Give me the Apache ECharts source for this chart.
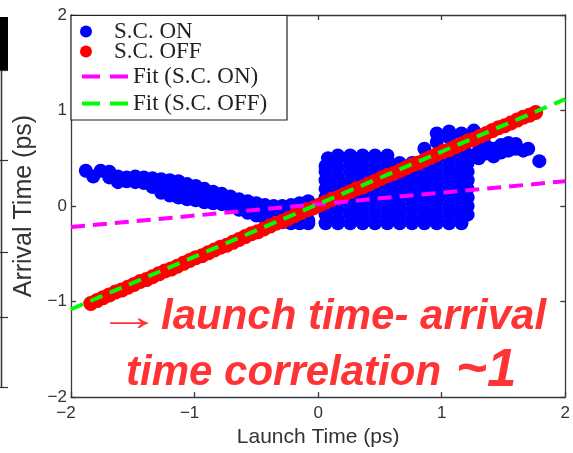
<!DOCTYPE html>
<html><head><meta charset="utf-8">
<script src="https://cdn.jsdelivr.net/npm/echarts@6/dist/echarts.min.js"></script>
<style>html,body{margin:0;padding:0;background:#fff}#c{width:573px;height:453px}</style>
</head><body><div id="c"></div>
<script>
// ---- data ----
const seriesNames = ['S.C. ON', 'S.C. OFF', 'Fit (S.C. ON)', 'Fit (S.C. OFF)'];
const axisTicks = [-2, -1, 0, 1, 2];
const xAxisTitle = 'Launch Time (ps)';
const yAxisTitle = 'Arrival Time (ps)';

// S.C. OFF : launch / arrival pairs (tight band)
const offLaunch = [-1.84,-1.79,-1.74,-1.69,-1.64,-1.59,-1.54,-1.49,-1.44,-1.39,-1.34,-1.29,-1.24,-1.19,-1.14,-1.09,-1.04,-0.99,-0.94,-0.89,-0.84,-0.79,-0.74,-0.69,-0.64,-0.59,-0.54,-0.49,-0.44,-0.39,-0.34,-0.29,-0.24,-0.19,-0.14,-0.09,-0.04,0.01,0.06,0.11,0.16,0.21,0.26,0.31,0.36,0.41,0.46,0.51,0.56,0.61,0.66,0.71,0.76,0.81,0.86,0.91,0.96,1.01,1.06,1.11,1.16,1.21,1.26,1.31,1.36,1.41,1.46,1.51,1.56,1.61,1.66,1.71,1.76];
const offArrival = [-1.02,-0.99,-0.96,-0.93,-0.90,-0.88,-0.85,-0.82,-0.79,-0.77,-0.74,-0.71,-0.68,-0.66,-0.63,-0.60,-0.57,-0.54,-0.52,-0.49,-0.46,-0.43,-0.41,-0.38,-0.35,-0.32,-0.29,-0.27,-0.24,-0.21,-0.18,-0.16,-0.13,-0.10,-0.07,-0.04,-0.02,0.01,0.04,0.07,0.09,0.12,0.15,0.18,0.20,0.23,0.26,0.29,0.32,0.34,0.37,0.40,0.43,0.45,0.48,0.51,0.54,0.57,0.59,0.62,0.65,0.68,0.70,0.73,0.76,0.79,0.82,0.84,0.87,0.90,0.93,0.95,0.98];

// S.C. ON : columns of [launch, [arrival values]]
const onTail = [
  [-1.88,[0.37]],[-1.82,[0.31]],[-1.76,[0.37]],[-1.69,[0.36,0.30]],[-1.62,[0.31,0.25]],
  [-1.55,[0.30,0.26]],[-1.48,[0.31,0.25]],[-1.41,[0.30,0.24]],[-1.34,[0.29,0.20]],
  [-1.27,[0.28,0.19,0.14]],[-1.20,[0.27,0.18,0.11]],[-1.13,[0.26,0.17,0.09]],
  [-1.06,[0.23,0.15,0.07]],[-0.99,[0.21,0.13,0.06]],[-0.92,[0.18,0.10,0.04]],
  [-0.85,[0.15,0.08,0.03]],[-0.78,[0.13,0.06,0.02]],[-0.71,[0.10,0.03,0.00]],
  [-0.64,[0.07,0.00,-0.04]],[-0.57,[0.05,-0.02,-0.07]],[-0.50,[0.03,-0.04,-0.10]],
  [-0.43,[0.01,-0.06,-0.13]],[-0.36,[0.00,-0.08,-0.16]],[-0.29,[0.00,-0.09,-0.17]],
  [-0.22,[0.01,-0.09,-0.18]],[-0.15,[0.03,-0.07,-0.18]],[-0.08,[0.05,-0.05,-0.15,-0.18]]
];
const onCore = [
  [0.06,[-0.18,-0.09,0,0.09,0.18,0.27,0.36,0.42]],
  [0.08,[0.50]],
  [0.16,[-0.18,-0.135,-0.045,0.045,0.135,0.225,0.315,0.405,0.495,0.53]],
  [0.26,[-0.18,-0.09,0,0.09,0.18,0.27,0.36,0.45,0.53]],
  [0.36,[-0.18,-0.135,-0.045,0.045,0.135,0.225,0.315,0.405,0.495,0.53]],
  [0.46,[-0.18,-0.09,0,0.09,0.18,0.27,0.36,0.45,0.53]],
  [0.56,[-0.18,-0.135,-0.045,0.045,0.135,0.225,0.315,0.405,0.495,0.53]],
  [0.66,[-0.18,-0.09,0,0.09,0.18,0.27,0.36,0.45]],
  [0.76,[-0.18,-0.135,-0.045,0.045,0.135,0.225,0.315,0.405,0.45]],
  [0.86,[-0.18,-0.09,0,0.09,0.18,0.27,0.36,0.45,0.60]],
  [0.96,[-0.18,-0.135,-0.045,0.045,0.135,0.225,0.315,0.405,0.495,0.67,0.76]],
  [1.06,[-0.18,-0.09,0,0.09,0.18,0.27,0.36,0.45,0.54,0.72,0.78]],
  [1.16,[-0.18,-0.135,-0.045,0.045,0.135,0.225,0.315,0.405,0.495,0.585,0.76]],
  [1.21,[-0.09,0,0.09,0.18,0.27,0.36,0.45,0.54]],
  [1.26,[0.79]]
];
const onRightLobe = [
  [1.30,0.50],[1.30,0.58],[1.36,0.55],[1.36,0.63],[1.42,0.52],[1.42,0.60],[1.48,0.56],[1.48,0.64],
  [1.54,0.58],[1.54,0.66],[1.60,0.60],[1.60,0.65],[1.66,0.58],[1.70,0.60],[1.79,0.47]
];

// linear fits: end points at launch = -2 and 2
const fitOnLaunch = [-2, 2],  fitOnArrival = [-0.22, 0.26];
const fitOffLaunch = [-2, 2], fitOffArrival = [-1.08, 1.12];

// ---- build ----
const onPts = [];
onTail.concat(onCore).forEach(([x, ys]) => ys.forEach(y => onPts.push([x, y])));
onRightLobe.forEach(p => onPts.push(p));
const offPts = offLaunch.map((x, i) => [x, offArrival[i]]);
const fitOn = fitOnLaunch.map((x, i) => [x, fitOnArrival[i]]);
const fitOff = fitOffLaunch.map((x, i) => [x, fitOffArrival[i]]);

const AX = '#3a3a3a';
const lblFont = {fontFamily: 'Liberation Sans', fontSize: 17, color: '#333'};
function mkAxis(pos) {
  return {
    type: 'value', min: axisTicks[0], max: axisTicks[axisTicks.length - 1], interval: 1,
    position: pos,
    axisLine: {show: true, onZero: false, lineStyle: {color: AX, width: 1.3}},
    axisTick: {show: true, inside: true, length: 5, lineStyle: {color: AX, width: 1.3}},
    splitLine: {show: false},
    axisLabel: {show: false}
  };
}
const xBottom = mkAxis('bottom');
xBottom.axisLabel = Object.assign({show: true, margin: 8,
  formatter: v => v < 0 ? '{n|\u2212' + Math.abs(v) + '}' : '{p|' + v + '}',
  rich: {n: Object.assign({padding: [0, 10, 0, 0]}, lblFont), p: Object.assign({}, lblFont)}}, lblFont);
xBottom.name = xAxisTitle; xBottom.nameLocation = 'middle'; xBottom.nameGap = 29;
xBottom.nameTextStyle = {fontFamily: 'Liberation Sans', fontSize: 21, color: '#333'};
const xTop = mkAxis('top');
const yLeft = mkAxis('left');
yLeft.axisLabel = Object.assign({show: true, margin: 4,
  formatter: v => v < 0 ? '\u2212' + Math.abs(v) : String(v)}, lblFont);
yLeft.name = yAxisTitle; yLeft.nameLocation = 'middle'; yLeft.nameGap = 31;
yLeft.nameTextStyle = {fontFamily: 'Liberation Sans', fontSize: 25, color: '#333'};
const yRight = mkAxis('right');

const legBase = {orient: 'vertical', left: 80, itemWidth: 46, itemHeight: 12, itemGap: 0, padding: 0,
  selectedMode: false, textStyle: {fontFamily: 'Liberation Serif', fontSize: 23, color: '#222'}};
const legTops = [20, 40, 65, 92];
const legendColors = ['#0000ff', '#ff0000'];
const legends = seriesNames.map((n, i) => {
  const d = {name: n};
  if (i >= 2) { d.lineStyle = {type: [18, 10], width: 4}; d.itemStyle = {opacity: 0}; }
  else { d.icon = 'circle'; d.itemStyle = {color: legendColors[i], borderWidth: 0, opacity: 1}; }
  return Object.assign({}, legBase, {top: legTops[i], data: [d]});
});

// filled dots placed through the axes' own coordinate mapping
function dotSeries(name, data, color, r, z) {
  return {
    name: name, type: 'custom', data: data, z: z, silent: true,
    encode: {x: 0, y: 1},
    itemStyle: {color: color},
    renderItem: (params, api) => {
      const p = api.coord([api.value(0), api.value(1)]);
      return {type: 'circle', shape: {cx: p[0], cy: p[1], r: r}, style: {fill: color, stroke: null, lineWidth: 0}};
    }
  };
}

const red = '#ff3333';
const chart = echarts.init(document.getElementById('c'));
chart.setOption({
  animation: false,
  backgroundColor: '#fff',
  grid: {left: 71, right: 2, top: 15, bottom: 52},
  xAxis: [xBottom, xTop],
  yAxis: [yLeft, yRight],
  legend: legends,
  series: [
    dotSeries(seriesNames[0], onPts, '#0000ff', 7, 2),
    dotSeries(seriesNames[1], offPts, '#ff0000', 7.5, 3),
    {name: seriesNames[2], type: 'line', data: fitOn, symbol: 'none', showSymbol: false,
     lineStyle: {color: '#ff00ff', width: 4, type: [14, 8]}, itemStyle: {color: '#ff00ff'}, z: 4, silent: true},
    {name: seriesNames[3], type: 'line', data: fitOff, symbol: 'none', showSymbol: false,
     lineStyle: {color: '#00ff00', width: 4, type: [13, 8]}, itemStyle: {color: '#00ff00'}, z: 5, silent: true}
  ],
  graphic: [
    {type: 'rect', z: 3, shape: {x: 71, y: 15.5, width: 216, height: 104.5},
     style: {fill: '#fff', stroke: '#222', lineWidth: 1.2}},
    // slide-crop remnants at the far left
    {type: 'rect', z: 3, shape: {x: 0, y: 17, width: 8, height: 53}, style: {fill: '#000'}},
    {type: 'line', z: 3, shape: {x1: 1.5, y1: 70, x2: 1.5, y2: 387}, style: {stroke: '#333', lineWidth: 1.5}},
    {type: 'line', z: 3, shape: {x1: 0, y1: 70.5, x2: 8, y2: 70.5}, style: {stroke: '#333', lineWidth: 1.2}},
    {type: 'line', z: 3, shape: {x1: 0, y1: 160.5, x2: 8, y2: 160.5}, style: {stroke: '#333', lineWidth: 1.2}},
    {type: 'line', z: 3, shape: {x1: 0, y1: 252.5, x2: 8, y2: 252.5}, style: {stroke: '#333', lineWidth: 1.2}},
    {type: 'line', z: 3, shape: {x1: 0, y1: 317.5, x2: 8, y2: 317.5}, style: {stroke: '#333', lineWidth: 1.2}},
    {type: 'line', z: 3, shape: {x1: 0, y1: 387.5, x2: 8, y2: 387.5}, style: {stroke: '#333', lineWidth: 1.2}},
    // annotation
    {type: 'text', z: 10, x: 97, y: 319, scaleX: 1.6, style: {text: '\u2192', fill: red,
      font: 'normal 40px "Liberation Sans"', align: 'left', verticalAlign: 'middle'}},
    {type: 'text', z: 10, x: 161, y: 317.5, style: {text: 'launch time- arrival', fill: red,
      font: 'italic bold 42px "Liberation Sans"', align: 'left', verticalAlign: 'middle'}},
    {type: 'text', z: 10, x: 126, y: 373.5, style: {text: 'time correlation', fill: red,
      font: 'italic bold 42px "Liberation Sans"', align: 'left', verticalAlign: 'middle'}},
    {type: 'text', z: 10, x: 456, y: 371.5, style: {text: '~1', fill: red,
      font: 'italic bold 53px "Liberation Sans"', align: 'left', verticalAlign: 'middle'}}
  ]
});
</script></body></html>
